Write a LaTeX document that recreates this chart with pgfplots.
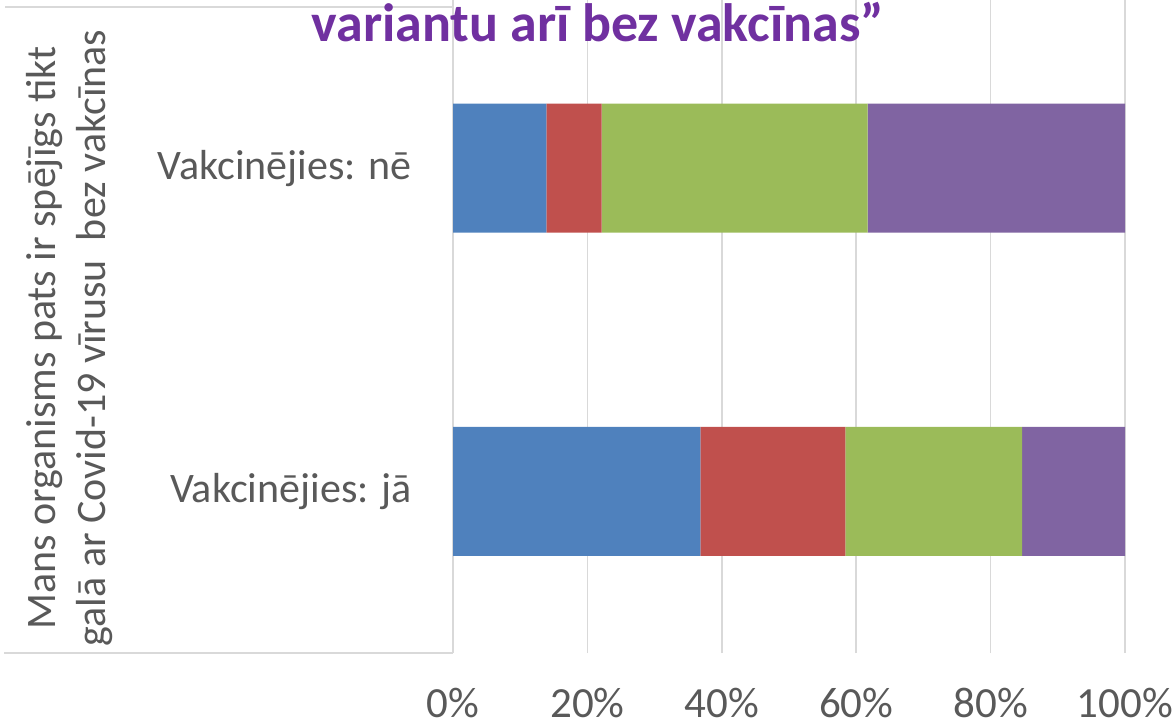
\documentclass[border=0pt]{standalone}
\usepackage{pgfplots}
\pgfplotsset{compat=1.18}
\usepackage{fontspec}
\setmainfont{Carlito}
\definecolor{cblue}{HTML}{4F81BD}
\definecolor{cred}{HTML}{C0504D}
\definecolor{cgreen}{HTML}{9BBB59}
\definecolor{cpurple}{HTML}{8064A2}
\definecolor{ctitle}{HTML}{7030A0}
\definecolor{ctext}{HTML}{595959}
\definecolor{cgrid}{HTML}{D9D9D9}
\begin{document}
\begin{tikzpicture}
\useasboundingbox (0,0) rectangle (588pt,362.5pt);
\begin{axis}[
  at={(226.5pt,36pt)}, anchor=south west,
  scale only axis, width=336pt, height=326.5pt,
  xbar stacked, bar width=64.5pt,
  xmin=0, xmax=100, ymin=-0.5, ymax=1.52,
  ytick={0,1}, yticklabels={Vakcinējies: jā, Vakcinējies: nē},
  xtick={0,20,40,60,80,100},
  xticklabels={0\%,20\%,40\%,60\%,80\%,100\%},
  xmajorgrids, grid style={cgrid, line width=0.8pt},
  axis line style={draw=none},
  major tick length=0pt,
  /pgf/number format/assume math mode=true,
  xticklabel style={font=\fontsize{21.5}{24}\selectfont, text=ctext, anchor=north, inner sep=0pt, yshift=-17.5pt},
  yticklabel style={font=\fontsize{21}{24}\selectfont, text=ctext, anchor=east, inner sep=0pt, xshift=-20.5pt},
  clip=false,
]
\addplot[fill=cblue, draw=none] coordinates {(36.8,0) (13.9,1)};
\addplot[fill=cred, draw=none] coordinates {(21.6,0) (8.2,1)};
\addplot[fill=cgreen, draw=none] coordinates {(26.3,0) (39.6,1)};
\addplot[fill=cpurple, draw=none] coordinates {(15.3,0) (38.3,1)};
\end{axis}
\draw[cgrid, line width=0.8pt] (2.5pt,359pt) -- (226.5pt,359pt);
\draw[cgrid, line width=1pt] (2pt,36pt) -- (226.5pt,36pt);
\node[rotate=90, align=center, text=ctext, font=\fontsize{21}{25}\selectfont] at (35pt,193.5pt) {Mans organisms pats ir spējīgs tikt\\ galā ar Covid-19 vīrusu\ \ bez vakcīnas};
\node[anchor=base, text=ctitle, font=\fontsize{27}{30}\selectfont\bfseries] at (299pt,341.5pt) {variantu arī bez vakcīnas”};
\end{tikzpicture}
\end{document}
